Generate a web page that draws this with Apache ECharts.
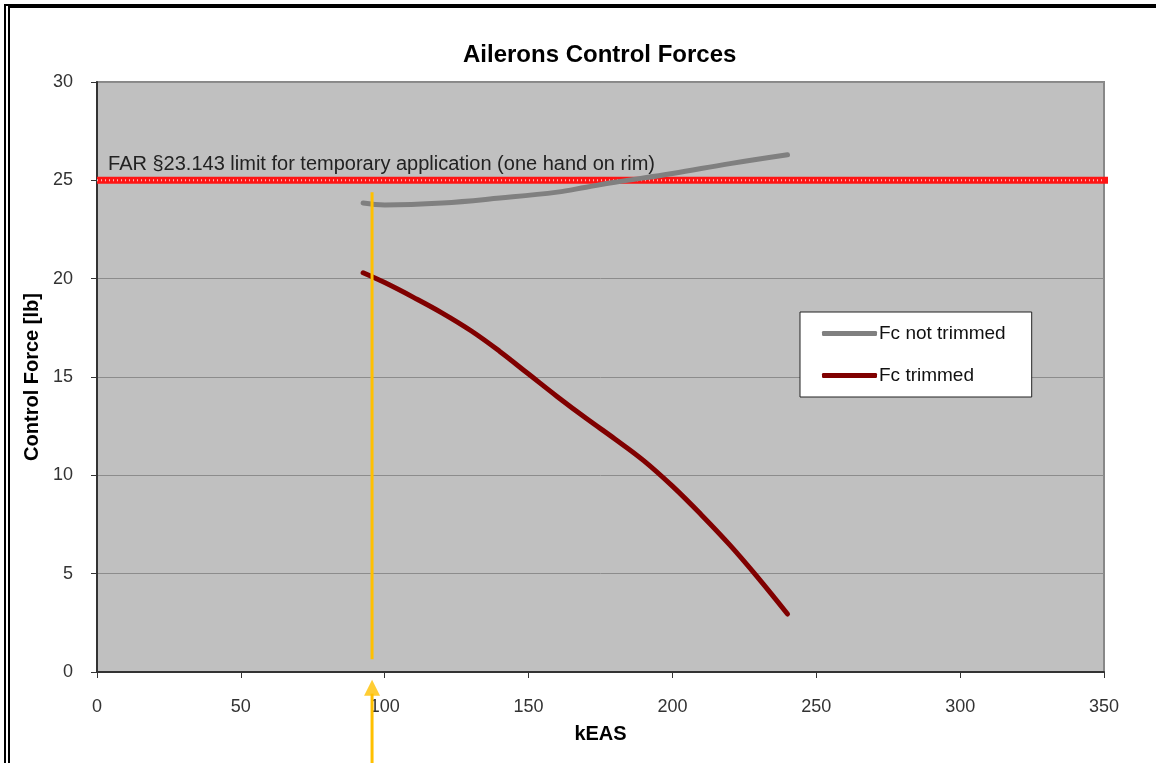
<!DOCTYPE html>
<html><head><meta charset="utf-8">
<script src="https://cdn.jsdelivr.net/npm/echarts@6/dist/echarts.min.js"></script>
<style>
html,body{margin:0;padding:0;background:#fff;}
#frame{position:absolute;left:4px;top:4px;width:1152px;height:759px;border-top:4px solid #000;border-left:6px double #000;box-sizing:border-box;}
#c{position:absolute;left:0;top:0;width:1156px;height:763px;}
</style></head>
<body>
<div id="frame"></div>
<div id="c"></div>
<script>
// Data
const notTrimmedX = [92.5, 100, 120, 140, 160, 170, 180, 200, 220, 240];
const notTrimmedY = [23.85, 23.75, 23.85, 24.1, 24.4, 24.65, 24.9, 25.35, 25.85, 26.3];
const trimmedX = [92.5, 100, 110, 120, 130, 140, 150, 160, 170, 180, 190, 200, 210, 220, 230, 240];
const trimmedY = [20.3, 19.8, 19.05, 18.25, 17.35, 16.3, 15.15, 14.0, 12.9, 11.85, 10.75, 9.45, 8.0, 6.45, 4.75, 2.95];
const limitX = [0, 351.5];
const limitValue = 25;
const markerX = 95.6;
const markerInY = [0.65, 24.4];
const arrowLineY = [-4.7, -1.1];
const arrowHeadY = -0.8;
const xTicks = [0, 50, 100, 150, 200, 250, 300, 350];
const yTicks = [0, 5, 10, 15, 20, 25, 30];
const limitText = 'FAR §23.143 limit for temporary application (one hand on rim)';
const limitTextAt = [2.1, 25.8];

const zip = (xs, ys) => xs.map((x, i) => [x, ys[i]]);
const FONT = "'Liberation Sans', Arial, sans-serif";

const chart = echarts.init(document.getElementById('c'), null, {renderer: 'canvas'});
chart.setOption({
  animation: false,
  backgroundColor: 'transparent',
  textStyle: {fontFamily: FONT},
  title: {
    text: 'Ailerons Control Forces', left: 458, top: 38,
    textStyle: {fontFamily: FONT, fontSize: 24, fontWeight: 'bold', color: '#000'}
  },
  grid: {
    left: 97, top: 82, right: 52, bottom: 91, show: true,
    backgroundColor: '#c0c0c0', borderColor: '#888', borderWidth: 2
  },
  legend: {
    orient: 'vertical', left: 800, top: 312,
    backgroundColor: '#fff', borderColor: '#222', borderWidth: 1,
    padding: [12, 26, 12, 22], itemGap: 23, itemWidth: 55, itemHeight: 5,
    icon: 'roundRect',
    textStyle: {fontFamily: FONT, fontSize: 19, color: '#111', padding: [0, 0, 0, -3]},
    data: ['Fc not trimmed', 'Fc trimmed']
  },
  xAxis: {
    type: 'value', min: xTicks[0], max: xTicks[xTicks.length - 1], interval: 50,
    name: 'kEAS', nameLocation: 'middle', nameGap: 52,
    nameTextStyle: {fontFamily: FONT, fontSize: 20, fontWeight: 'bold', color: '#000'},
    axisLine: {lineStyle: {color: '#333', width: 2}},
    axisTick: {show: true, length: 6, lineStyle: {color: '#333'}},
    axisLabel: {fontFamily: FONT, fontSize: 18, color: '#333', margin: 26},
    splitLine: {show: false}
  },
  yAxis: {
    type: 'value', min: yTicks[0], max: yTicks[yTicks.length - 1], interval: 5,
    name: 'Control Force [lb]', nameLocation: 'middle', nameGap: 50,
    nameTextStyle: {fontFamily: FONT, fontSize: 20, fontWeight: 'bold', color: '#000'},
    axisLine: {show: true, lineStyle: {color: '#333', width: 2}},
    axisTick: {show: true, length: 6, lineStyle: {color: '#333'}},
    axisLabel: {fontFamily: FONT, fontSize: 18, color: '#333', margin: 24},
    splitLine: {show: true, lineStyle: {color: '#8c8c8c', width: 1}}
  },
  series: [
    {
      name: 'limit', type: 'line', clip: false, silent: true, symbol: 'none',
      data: limitX.map(x => [x, limitValue]),
      lineStyle: {color: '#ff1414', width: 7},
      z: 3
    },
    {
      name: 'limitDots', type: 'line', clip: false, silent: true, symbol: 'none',
      data: limitX.map(x => [x, limitValue]),
      lineStyle: {color: 'rgba(255,200,200,0.9)', width: 2, type: [1, 3]},
      z: 4,
      markPoint: {
        symbol: 'rect', symbolSize: 0,
        label: {show: true, position: 'right', formatter: limitText, fontFamily: FONT, fontSize: 20, color: '#222'},
        data: [{coord: limitTextAt}]
      }
    },
    {
      name: 'Fc not trimmed', type: 'line', symbol: 'none', smooth: 0.4,
      data: zip(notTrimmedX, notTrimmedY),
      lineStyle: {color: '#808080', width: 5, cap: 'round'},
      itemStyle: {color: '#808080'}, z: 5
    },
    {
      name: 'Fc trimmed', type: 'line', symbol: 'none', smooth: 0.4,
      data: zip(trimmedX, trimmedY),
      lineStyle: {color: '#800000', width: 5, cap: 'round'},
      itemStyle: {color: '#800000'}, z: 5
    },
    {
      name: 'marker', type: 'line', symbol: 'none', silent: true,
      data: markerInY.map(y => [markerX, y]),
      lineStyle: {color: '#ffc000', width: 3}, z: 6
    },
    {
      name: 'arrowLine', type: 'line', symbol: 'none', silent: true, clip: false,
      data: arrowLineY.map(y => [markerX, y]),
      lineStyle: {color: '#ffc000', width: 3}, z: 6
    },
    {
      name: 'arrowHead', type: 'scatter', silent: true, clip: false,
      symbol: 'triangle', symbolSize: [16, 16],
      data: [[markerX, arrowHeadY]],
      itemStyle: {color: '#ffc000'}, z: 6
    }
  ]
});
</script>
</body></html>
